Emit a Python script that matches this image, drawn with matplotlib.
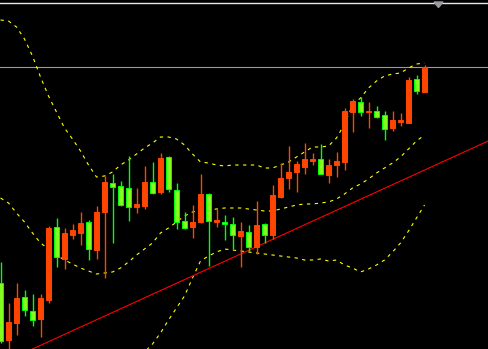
import numpy as np
import matplotlib
matplotlib.use("Agg")
import matplotlib.pyplot as plt

# candles, in price points (0 = bottom edge of the window)
open_p = [66, 9, 26, 52, 38, 30, 49, 122, 90, 114, 116, 127, 99, 137, 166, 163, 161, 142,
          143, 167, 157, 192, 159, 128, 122, 127, 155, 127, 127, 125, 113, 117, 102, 125,
          114, 152, 171, 177, 182, 188, 190, 174, 184, 187, 237, 247, 237, 238, 234, 221,
          227, 226, 270, 257]
high_p = [87, 46, 66, 59, 55, 55, 123, 131, 121, 125, 137, 129, 143, 173, 175, 168, 193, 161,
          183, 187, 196, 193, 166, 137, 144, 175, 156, 140, 134, 132, 127, 124, 148, 126,
          164, 186, 203, 188, 206, 196, 205, 190, 197, 241, 250, 252, 247, 243, 238, 238,
          236, 272, 274, 284]
low_p = [6, -3, 14, 33, 23, 12, 46, 82, 80, 110, 104, 89, 90, 71, 106, 143, 128, 136,
         140, 155, 155, 157, 120, 120, 111, 126, 83, 122, 109, 100, 82, 98, 95, 106,
         110, 151, 160, 157, 175, 184, 175, 166, 172, 179, 217, 233, 221, 231, 209, 218,
         223, 226, 255, 257]
close_p = [8, 27, 51, 39, 29, 51, 121, 92, 116, 119, 126, 100, 137, 167, 162, 144, 142, 145,
           167, 156, 191, 160, 127, 121, 127, 155, 128, 129, 125, 114, 118, 102, 124, 114,
           154, 171, 177, 185, 190, 190, 175, 184, 188, 238, 248, 237, 238, 232, 220, 229,
           229, 269, 258, 282]

# bollinger bands
bb_upper = [329, 328, 322, 310, 293, 272, 253, 237, 221, 210, 198, 184, 172, 173, 177, 184,
            189, 195, 201, 206, 212, 212, 210, 204, 195, 187, 186, 184, 183, 184, 184, 184,
            184, 181, 181, 184, 187, 192, 197, 202, 202, 203, 211, 225, 244, 251, 261, 268,
            273, 275, 276, 281, 285, 286]
bb_mid = [151, 146, 136, 127, 116, 106, 100, 94, 89, 85, 81, 78, 75, 76, 77, 81,
          87, 94, 100, 106, 116, 121, 127, 133, 137, 139, 139, 140, 141, 141, 141, 140,
          139, 138, 138, 140, 142, 144, 145, 145, 146, 147, 150, 155, 161, 165, 170, 176,
          181, 186, 192, 200, 208, 214]
bb_lower = [-27, -36, -50, -56, -61, -60, -53, -49, -43, -40, -36, -28, -22, -21, -23, -22,
            -15, -8, -3, 5, 16, 29, 41, 53, 71, 88, 93, 97, 100, 99, 98, 97,
            96, 95, 94, 93, 92, 91, 89, 89, 90, 88, 89, 84, 81, 77, 80, 84,
            89, 97, 106, 118, 131, 144]

# trend line anchors (bar index, price)
trend_x = [4, 60]
trend_p = [0, 204.5]

bull_col = '#ff4500'
bear_face = '#80ff20'
bear_edge = '#00ff00'

o = np.array(open_p, float)
h = np.array(high_p, float)
l = np.array(low_p, float)
c = np.array(close_p, float)
x = np.arange(len(o))
up = c >= o

fig = plt.figure(figsize=(4.88, 3.49), dpi=100, facecolor='black')
ax = fig.add_axes([0, 0, 1, 1])
ax.set_facecolor('black')

# bands
for band in (bb_upper, bb_mid, bb_lower):
    ax.plot(x, band, color='#ffff00', lw=0.8, ls=(0, (3, 4)), zorder=2)

# trend line
ax.axline((trend_x[0], trend_p[0]), (trend_x[1], trend_p[1]), color='#ff0000', lw=0.8, zorder=3)

# wicks
ax.vlines(x[up], l[up], h[up], color=bull_col, lw=1.0, zorder=4)
ax.vlines(x[~up], l[~up], h[~up], color=bear_edge, lw=1.0, zorder=4)

# bodies
bottom = np.minimum(o, c)
height = np.maximum(np.abs(c - o), 1.5)
ax.bar(x[up], height[up], bottom=bottom[up], width=0.56, color=bull_col,
       edgecolor=bull_col, lw=0.7, zorder=5)
ax.bar(x[~up], height[~up], bottom=bottom[~up], width=0.56, color=bear_face,
       edgecolor=bear_edge, lw=0.7, zorder=5)

# bid line at last close
ax.axhline(c[-1], color='#9a9aa2', lw=0.8, zorder=1)

# window top border and chart shift marker
ax.plot([0, 1], [1 - 2.5 / 349, 1 - 2.5 / 349], transform=ax.transAxes, color='#e6e6e6', lw=1.0)
ax.fill([434 / 488, 443 / 488, 438.5 / 488], [1 - 2 / 349, 1 - 2 / 349, 1 - 7.5 / 349],
        transform=ax.transAxes, color='#9a9aa2', zorder=6)

ax.set_xlim(-0.0625, 60.9375)
ax.set_ylim(0, 349)
ax.axis('off')

fig.savefig('out.png', dpi=100, facecolor='black')
